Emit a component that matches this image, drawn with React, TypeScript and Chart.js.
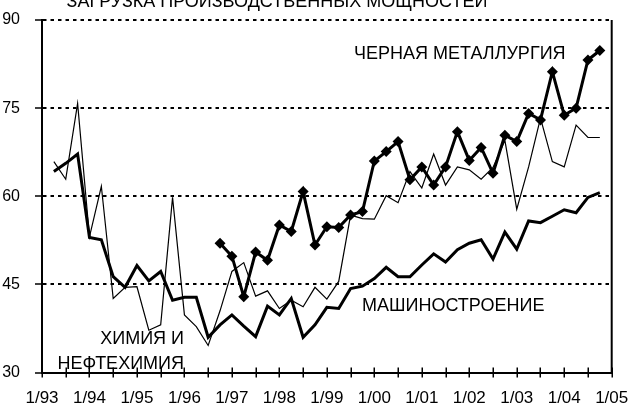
import React, { useEffect, useRef } from 'react';
import { Chart, registerables } from 'chart.js';

Chart.register(...registerables);

// Quarter end positions (years)
const quarters = [
  1993.25, 1993.5, 1993.75, 1994.0, 1994.25, 1994.5, 1994.75, 1995.0,
  1995.25, 1995.5, 1995.75, 1996.0, 1996.25, 1996.5, 1996.75, 1997.0,
  1997.25, 1997.5, 1997.75, 1998.0, 1998.25, 1998.5, 1998.75, 1999.0,
  1999.25, 1999.5, 1999.75, 2000.0, 2000.25, 2000.5, 2000.75, 2001.0,
  2001.25, 2001.5, 2001.75, 2002.0, 2002.25, 2002.5, 2002.75, 2003.0,
  2003.25, 2003.5, 2003.75, 2004.0, 2004.25, 2004.5, 2004.75,
];

const machineBuilding = [
  64.2, 65.6, 67.2, 53.0, 52.6, 46.3, 44.5, 48.2,
  45.6, 47.2, 42.3, 42.8, 42.8, 36.0, 38.1, 39.8,
  37.9, 36.1, 41.3, 39.8, 42.6, 36.0, 38.1, 41.1,
  40.9, 44.3, 44.7, 46.0, 47.9, 46.3, 46.3, 48.3,
  50.2, 48.8, 50.9, 52.0, 52.6, 49.3, 53.9, 51.0,
  55.8, 55.5, 56.6, 57.7, 57.2, 59.8, 60.6,
];

const chemistry = [
  65.9, 62.9, 75.8, 53.1, 61.7, 42.6, 44.5, 44.6,
  37.2, 38.1, 59.8, 39.8, 37.8, 34.6, 40.5, 47.2,
  48.7, 43.0, 43.9, 40.9, 42.3, 41.2, 44.5, 42.5,
  45.5, 56.8, 56.2, 56.1, 60.1, 58.9, 64.2, 61.4,
  67.2, 61.9, 65.0, 64.5, 62.9, 64.9, 69.5, 57.8,
  65.0, 73.3, 65.9, 65.0, 72.1, 70.0, 70.0,
];

const metallurgy = [
  null, null, null, null, null, null, null, null,
  null, null, null, null, null, null, 52.0, 49.8,
  42.9, 50.5, 49.1, 55.1, 54.0, 60.8, 51.7, 54.8,
  54.7, 56.8, 57.4, 66.0, 67.6, 69.3, 62.8, 65.0,
  61.9, 65.0, 71.0, 66.1, 68.3, 63.9, 70.4, 69.3,
  74.1, 73.0, 81.2, 73.8, 75.0, 83.2, 84.8,
];

const yearLabels = ['1/93', '1/94', '1/95', '1/96', '1/97', '1/98', '1/99', '1/00', '1/01', '1/02', '1/03', '1/04', '1/05'];
const firstYear = 1993;
const lastYear = 2005;
const yMin = 30;
const yMax = 90;
const yStep = 15;

const titleText = 'ЗАГРУЗКА ПРОИЗВОДСТВЕННЫХ МОЩНОСТЕЙ';
const labelMetallurgy = 'ЧЕРНАЯ МЕТАЛЛУРГИЯ';
const labelMachine = 'МАШИНОСТРОЕНИЕ';
const labelChem1 = 'ХИМИЯ И';
const labelChem2 = 'НЕФТЕХИМИЯ';

const FONT = '"Liberation Sans", Arial, sans-serif';

const decorPlugin = {
  id: 'decor',
  afterDraw(chart: any) {
    const { ctx, chartArea, scales } = chart;
    const xs = scales.x;
    ctx.save();
    // right border
    ctx.strokeStyle = '#000';
    ctx.lineWidth = 2;
    ctx.beginPath();
    ctx.moveTo(chartArea.right, chartArea.top);
    ctx.lineTo(chartArea.right, chartArea.bottom);
    ctx.stroke();
    // crossing tick marks on the x axis
    ctx.lineWidth = 1.5;
    for (let v = firstYear; v <= lastYear + 1e-9; v += 0.5) {
      const px = Math.round(xs.getPixelForValue(v)) + 0.25;
      ctx.beginPath();
      ctx.moveTo(px, chartArea.bottom - 5);
      ctx.lineTo(px, chartArea.bottom + 5);
      ctx.stroke();
    }
    // texts
    ctx.fillStyle = '#000';
    ctx.font = `18px ${FONT}`;
    ctx.textBaseline = 'alphabetic';
    ctx.textAlign = 'center';
    ctx.fillText(titleText, 277, 7);
    ctx.textAlign = 'left';
    ctx.fillText(labelMetallurgy, 354, 59);
    ctx.fillText(labelMachine, 362, 311);
    ctx.textAlign = 'right';
    ctx.fillText(labelChem1, 184, 344);
    ctx.fillText(labelChem2, 184, 369);
    ctx.restore();
  },
};

export default function App() {
  const ref = useRef<HTMLCanvasElement | null>(null);

  useEffect(() => {
    document.body.style.margin = '0';
    const canvas = ref.current;
    if (!canvas) return;
    const toPts = (arr: (number | null)[]) => quarters.map((q, i) => ({ x: q, y: arr[i] }));
    const chart = new Chart(canvas, {
      type: 'line',
      data: {
        datasets: [
          {
            label: labelMetallurgy,
            data: toPts(metallurgy) as any,
            borderColor: '#000',
            backgroundColor: '#000',
            borderWidth: 3,
            pointStyle: 'rectRot',
            pointRadius: 5.5,
            pointBorderWidth: 0,
            pointBackgroundColor: '#000',
            tension: 0,
            spanGaps: false,
          },
          {
            label: labelMachine,
            data: toPts(machineBuilding) as any,
            borderColor: '#000',
            borderWidth: 3,
            pointRadius: 0,
            tension: 0,
          },
          {
            label: labelChem1 + ' ' + labelChem2,
            data: toPts(chemistry) as any,
            borderColor: '#000',
            borderWidth: 1.2,
            pointRadius: 0,
            tension: 0,
          },
        ],
      },
      options: {
        animation: false,
        responsive: false,
        events: [],
        layout: { padding: { left: 0, right: 19.3, top: 20, bottom: 0 } },
        plugins: { legend: { display: false }, tooltip: { enabled: false }, title: { display: false } },
        scales: {
          x: {
            type: 'linear',
            min: firstYear,
            max: lastYear,
            afterFit: (s: any) => {
              s.height = 34.5;
              s.paddingLeft = 0;
              s.paddingRight = 0;
            },
            grid: { display: false, drawTicks: false },
            border: { display: true, color: '#000', width: 2 },
            ticks: {
              stepSize: 0.5,
              autoSkip: false,
              maxRotation: 0,
              padding: 16,
              color: '#000',
              font: { family: FONT, size: 17 },
              callback: (value: any) => {
                const v = Number(value);
                if (Math.abs(v - Math.round(v)) < 1e-6) return yearLabels[Math.round(v) - firstYear];
                return '';
              },
            },
          },
          y: {
            min: yMin,
            max: yMax,
            afterFit: (s: any) => {
              s.width = 42;
              s.paddingTop = 0;
              s.paddingBottom = 0;
            },
            grid: {
              color: (c: any) => (c.tick && c.tick.value === yMin ? 'rgba(0,0,0,0)' : '#000'),
              lineWidth: 2,
              drawTicks: true,
              tickLength: 7,
              tickColor: '#000',
              tickWidth: 1.5,
              tickBorderDash: [],
            },
            border: { display: true, color: '#000', width: 2, dash: [3.5, 4] },
            ticks: {
              stepSize: yStep,
              padding: 15,
              color: '#000',
              font: { family: FONT, size: 16 },
            },
          },
        },
      },
      plugins: [decorPlugin],
    });
    return () => chart.destroy();
  }, []);

  return (
    <div style={{ position: 'absolute', left: 0, top: 0, width: 631, height: 407, background: '#fff' }}>
      <canvas ref={ref} width={631} height={407} style={{ display: 'block' }} />
    </div>
  );
}
